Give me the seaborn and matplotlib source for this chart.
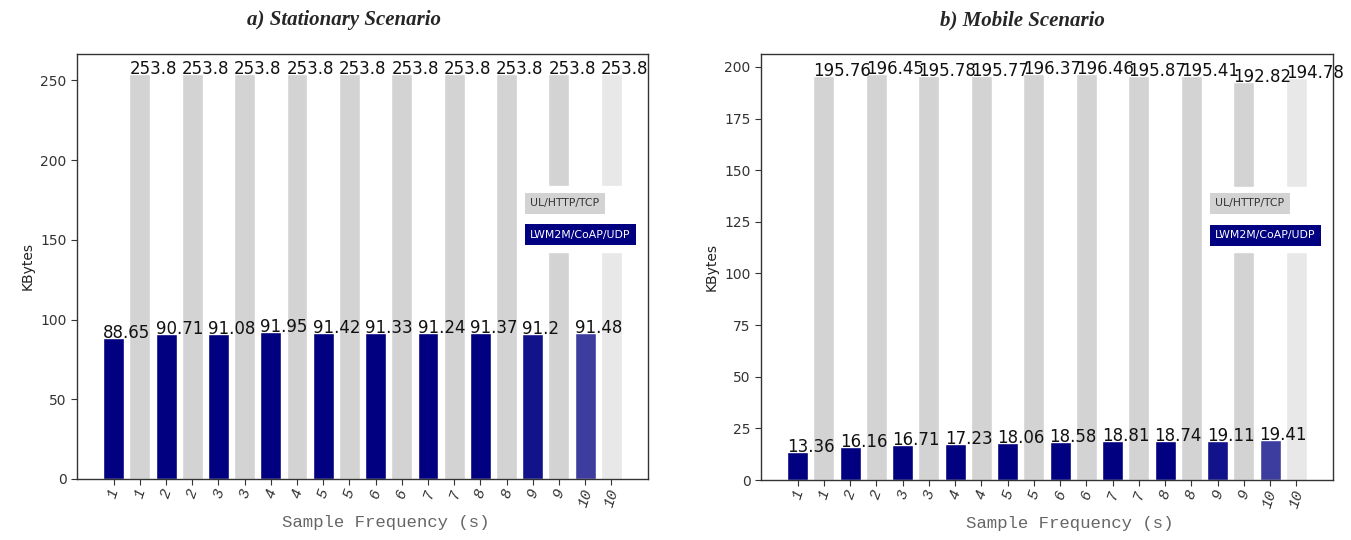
import matplotlib
matplotlib.use("Agg")
import matplotlib.pyplot as plt
from matplotlib.patches import Patch
import seaborn as sns
import numpy as np

# ---- data ----
freq = ["1", "2", "3", "4", "5", "6", "7", "8", "9", "10"]
series_names = ["UL/HTTP/TCP", "LWM2M/CoAP/UDP"]

stationary_coap = [88.65, 90.71, 91.08, 91.95, 91.42, 91.33, 91.24, 91.37, 91.2, 91.48]
stationary_http = [253.8, 253.8, 253.8, 253.8, 253.8, 253.8, 253.8, 253.8, 253.8, 253.8]

mobile_coap = [13.36, 16.16, 16.71, 17.23, 18.06, 18.58, 18.81, 18.74, 19.11, 19.41]
mobile_http = [195.76, 196.45, 195.78, 195.77, 196.37, 196.46, 195.87, 195.41, 192.82, 194.78]

titles = ["a) Stationary Scenario", "b) Mobile Scenario"]

coap_colors = ["#000080"] * 8 + ["#12128a", "#3d3d9f"]
http_colors = ["#d3d3d3"] * 9 + ["#e8e8e8"]

sns.set_style("ticks")
plt.rcParams["font.family"] = ["DejaVu Sans"]

fig = plt.figure(figsize=(13.51, 5.40), dpi=100)
W, H = 1351, 540
ax1 = fig.add_axes([77 / W, (H - 479) / H, (648 - 77) / W, (479 - 54) / H])
ax2 = fig.add_axes([761 / W, (H - 480) / H, (1333 - 761) / W, (480 - 54) / H])


def draw(ax, coap, http, title, title_x, legend_anchor):
    vals, cols, ticks = [], [], []
    for f, c, h, cc, hc in zip(freq, coap, http, coap_colors, http_colors):
        vals += [c, h]
        cols += [cc, hc]
        ticks += [f, f]
    pos = list(range(len(vals)))
    sns.barplot(x=pos, y=vals, hue=pos, palette=cols, legend=False,
                saturation=1, width=0.8, ax=ax)
    for patch, v in zip(ax.patches, vals):
        ax.text(patch.get_x(), patch.get_height(), f"{v:g}", ha="left",
                va="baseline", fontsize=12, color="#111111")
    ax.set_xlim(-1.4, len(vals) - 1 + 1.4)
    ax.set_xticks(pos)
    ax.set_xticklabels(ticks, rotation=72, fontstyle="italic",
                       family="Liberation Mono", fontsize=11, color="#333333")
    ax.tick_params(axis="y", labelsize=10, length=4, color="#333333", labelcolor="#333333")
    ax.tick_params(axis="x", length=4, color="#333333", pad=2)
    ax.set_xlabel("Sample Frequency (s)", family="Liberation Mono",
                  fontsize=12.5, color="#666666", labelpad=2)
    ax.xaxis.set_label_coords(0.54, -0.085)
    ax.set_ylabel("KBytes", fontsize=10, color="#222222")
    for s in ax.spines.values():
        s.set_color("#333333")
        s.set_linewidth(1.0)
    handles = [Patch(facecolor="none", edgecolor="none"),
               Patch(facecolor="none", edgecolor="none")]
    leg = ax.legend(handles, series_names, handlelength=0, handletextpad=0,
                    loc="center right", bbox_to_anchor=legend_anchor,
                    fontsize=7.8, labelspacing=2.0, borderpad=1.1,
                    frameon=True, fancybox=False, framealpha=1)
    leg.get_frame().set_edgecolor("white")
    leg.get_frame().set_facecolor("white")
    t_http, t_coap = leg.get_texts()
    t_http.set_color("#333333")
    t_http.set_bbox(dict(facecolor="#d3d3d3", edgecolor="none", pad=4))
    t_coap.set_color("white")
    t_coap.set_bbox(dict(facecolor="#000080", edgecolor="none", pad=4))
    fig.text(title_x, 1 - 20 / H, title, ha="center", va="center",
             family="Liberation Serif", fontweight="bold", fontstyle="italic",
             fontsize=15)


draw(ax1, stationary_coap, stationary_http, titles[0], 344 / W, (1.0, 0.612))
draw(ax2, mobile_coap, mobile_http, titles[1], 1022 / W, (1.0, 0.612))

fig.savefig("out.png", dpi=100)
